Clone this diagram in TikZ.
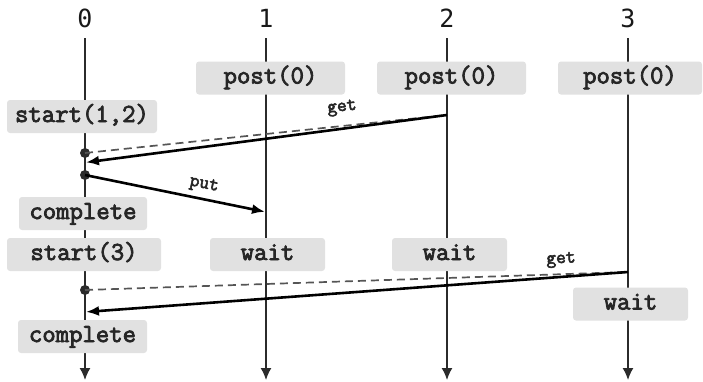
\documentclass[tikz,border=0pt]{standalone}
\usepackage{fontspec}
\setmainfont{Liberation Sans}
\setmonofont{Latin Modern Mono}[FakeBold=3]
\newfontfamily\lanefont{DejaVu Sans Mono}
\usetikzlibrary{arrows.meta}
\definecolor{boxgray}{HTML}{E1E1E1}
\definecolor{lifeline}{HTML}{2B2B2B}
\definecolor{pollgray}{HTML}{555555}
\tikzset{
  lane/.style={font=\fontsize{25}{25}\selectfont\lanefont, text=black!90, inner sep=0pt},
  life/.style={draw=lifeline, line width=1.5pt, -{Latex[length=12pt,width=11pt]}},
  op/.style={fill=boxgray, rounded corners=3pt, inner sep=0pt, minimum height=33pt,
    font=\fontsize{26}{26}\selectfont\ttfamily, text=black!85,
    text height=15pt, text depth=4pt},
  msg/.style={draw=black, line width=2.6pt, -{Latex[length=13pt,width=10pt]}, shorten >=1pt},
  poll/.style={draw=pollgray, line width=1.7pt, dash pattern=on 8pt off 5pt},
  dot/.style={circle, fill=lifeline, inner sep=0pt, minimum size=10pt},
  tag/.style={font=\fontsize{19}{19}\selectfont\ttfamily, text=black!85, inner sep=0pt}
}
\begin{document}
\begin{tikzpicture}[x=1pt, y=-1pt]
  \useasboundingbox (0,0) rectangle (703,381);
  % process headings and their time lines
  \foreach \i/\x in {0/85, 1/266, 2/447, 3/628} {
    \node[lane] (l\i) at (\x,18) {\i};
    \coordinate (t\i) at (\x,38);
    \coordinate (b\i) at (\x,380);
    \draw[life] (t\i) -- (b\i);
  }
  % operation boxes
  \node[op, minimum width=149pt] (post1) at (270.5,78) {post(0)};
  \node[op, minimum width=149pt] (post2) at (451.5,78) {post(0)};
  \node[op, minimum width=144pt] (post3) at (630,78) {post(0)};
  \node[op, minimum width=150pt] (start12) at (82,116.5) {start(1,2)};
  \node[op, minimum width=128pt] (comp1) at (83,213.5) {complete};
  \node[op, minimum width=154pt] (start3) at (84,254.5) {start(3)};
  \node[op, minimum width=115pt] (wait1) at (267.5,254.5) {wait};
  \node[op, minimum width=115pt] (wait2) at (449.5,254.5) {wait};
  \node[op, minimum width=115pt] (wait3) at (630.5,304) {wait};
  \node[op, minimum width=129pt] (comp2) at (82.5,336.5) {complete};
  % message end points
  \node[dot] (d1) at (85,153) {};
  \node[dot] (d2) at (85,175) {};
  \node[dot] (d3) at (85,290) {};
  \coordinate (g1) at (447,115);
  \coordinate (a1) at (85,162.5);
  \coordinate (p1) at (266,212);
  \coordinate (g2) at (628,272);
  \coordinate (a2) at (85,312);
  % messages
  \draw[poll] (d1.center) -- (g1);
  \draw[msg] (g1) -- (a1);
  \draw[msg] (d2.center) -- (p1);
  \draw[poll] (d3.center) -- (g2);
  \draw[msg] (g2) -- (a2);
  % message labels
  \node[tag, rotate=6] (get1) at (342,108) {get};
  \node[tag, rotate=-11.5] (put1) at (204,185) {put};
  \node[tag, rotate=3] (get2) at (561,260) {get};
\end{tikzpicture}
\end{document}
